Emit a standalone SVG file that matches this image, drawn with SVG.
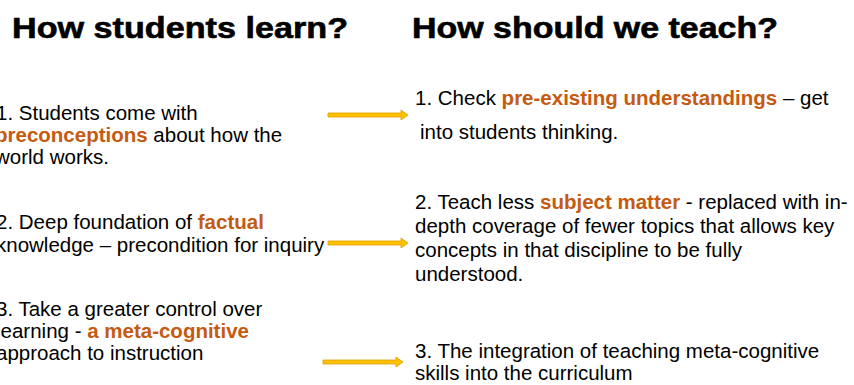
<svg xmlns="http://www.w3.org/2000/svg" width="854" height="385" viewBox="0 0 854 385">
<style>
.h{font-family:"Liberation Sans",Arial,sans-serif;font-weight:bold;font-size:29px;fill:#000;stroke:#000;stroke-width:0.6}
.t{font-family:"Liberation Sans",Arial,sans-serif;font-size:20.5px;fill:#000}
.o{font-weight:bold;fill:#C55A11}
.arr{fill:#FFC000;stroke:#D9A100;stroke-width:0.8}
</style>
<rect width="854" height="385" fill="#fff"/>
<g id="title-left"><text class="h" x="12" y="38" textLength="336" lengthAdjust="spacingAndGlyphs">How students learn?</text></g>
<g id="title-right"><text class="h" x="412" y="38" textLength="366" lengthAdjust="spacingAndGlyphs">How should we teach?</text></g>
<g id="learn1">
<text class="t" x="-4" y="120">1. Students come with</text>
<text class="t" x="-5" y="142"><tspan class="o">preconceptions</tspan> about how the</text>
<text class="t" x="-5" y="164">world works.</text>
</g>
<g id="learn2">
<text class="t" x="-4" y="229">2. Deep foundation of <tspan class="o">factual</tspan></text>
<text class="t" x="-4" y="252">knowledge – precondition for inquiry</text>
</g>
<g id="learn3">
<text class="t" x="-4" y="316">3. Take a greater control over</text>
<text class="t" x="-4" y="338">learning - <tspan class="o">a meta-cognitive</tspan></text>
<text class="t" x="-4" y="360">approach to instruction</text>
</g>
<g id="teach1">
<text class="t" x="415" y="105">1. Check <tspan class="o">pre-existing understandings</tspan> – get</text>
<text class="t" x="420" y="139">into students thinking.</text>
</g>
<g id="teach2">
<text class="t" x="415" y="209">2. Teach less <tspan class="o">subject matter</tspan> - replaced with in-</text>
<text class="t" x="415" y="233">depth coverage of fewer topics that allows key</text>
<text class="t" x="415" y="257">concepts in that discipline to be fully</text>
<text class="t" x="415" y="281">understood.</text>
</g>
<g id="teach3">
<text class="t" x="415" y="358">3. The integration of teaching meta-cognitive</text>
<text class="t" x="415" y="380">skills into the curriculum</text>
</g>
<g id="connectors">
<polygon class="arr" points="328,113 401,113 401,110 408,115 401,120 401,117 328,117"/>
<polygon class="arr" points="328,241 401,241 401,238 408,243 401,248 401,245 328,245"/>
<polygon class="arr" points="323,360 396,360 396,357 403,362 396,367 396,364 323,364"/>
</g>
</svg>
